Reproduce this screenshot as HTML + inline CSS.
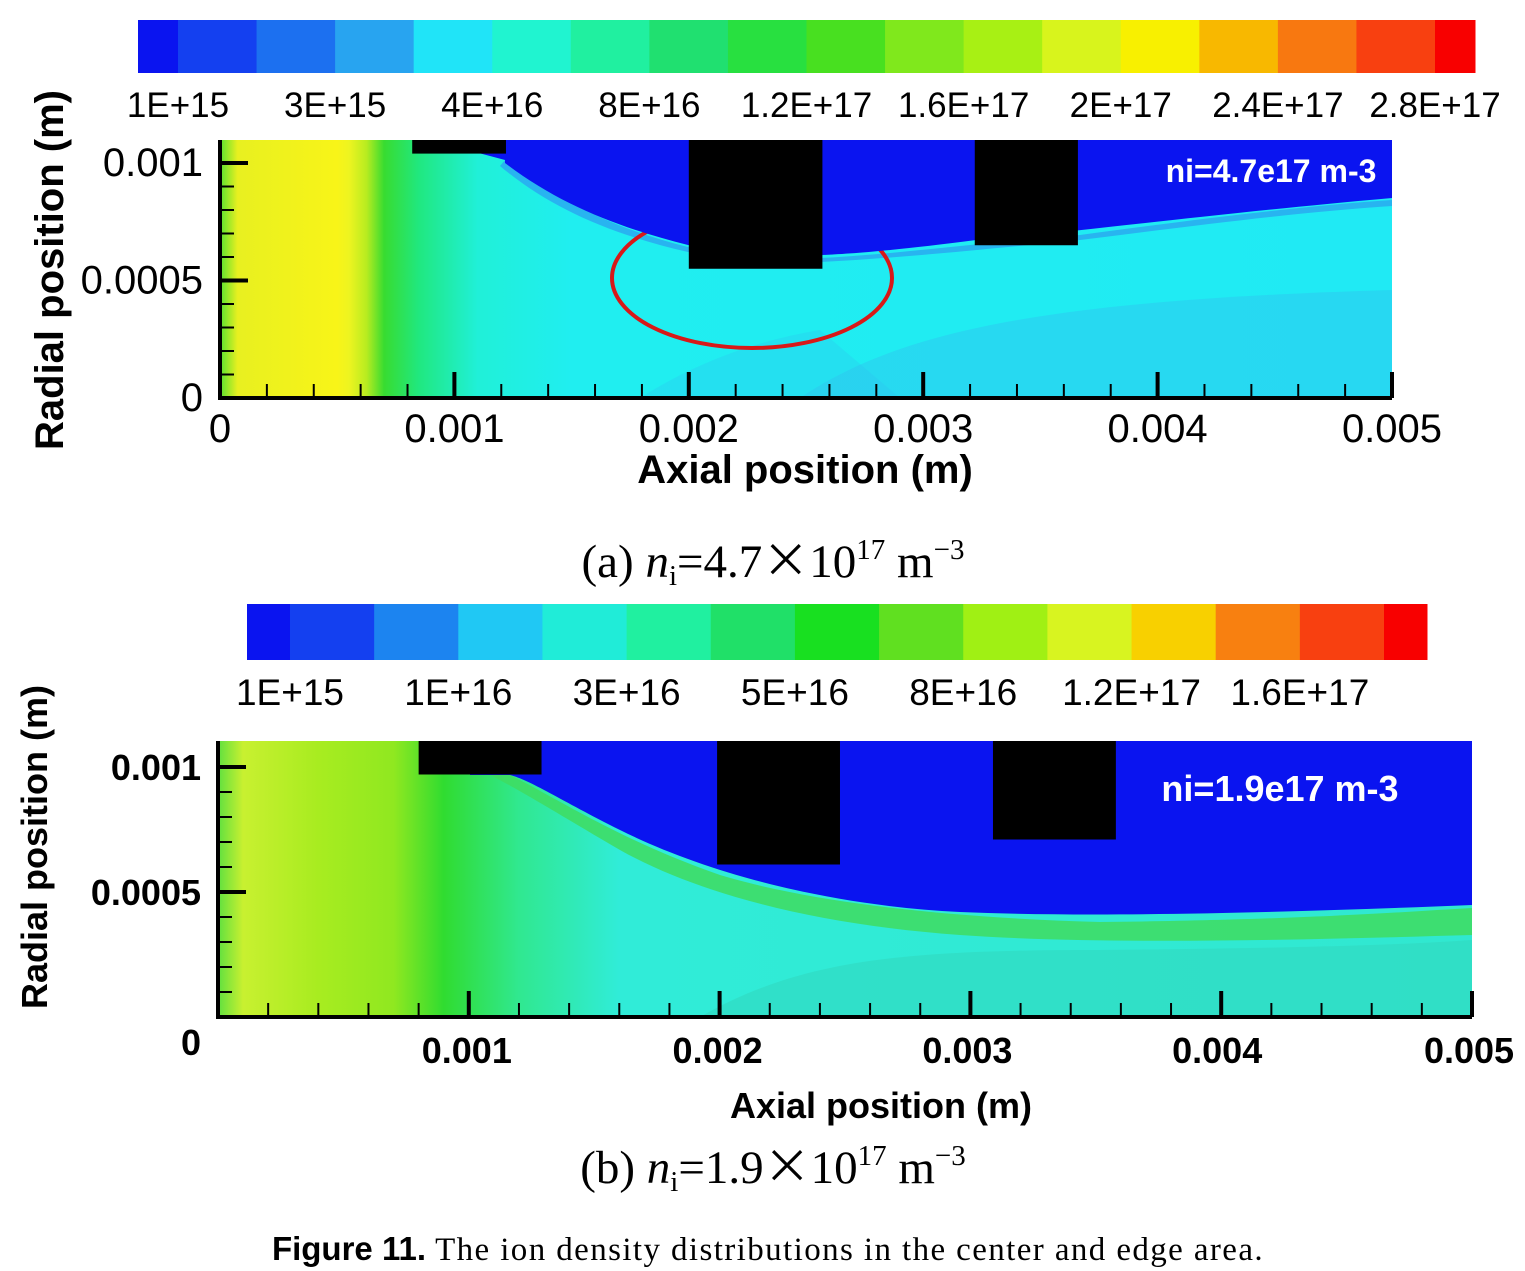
<!DOCTYPE html>
<html><head><meta charset="utf-8">
<style>
body{margin:0;background:#fff;width:1525px;height:1271px;overflow:hidden}
svg{display:block}
.s{font-family:"Liberation Sans",sans-serif}
.t{font-family:"Liberation Serif",serif}
</style></head>
<body>
<svg id="fig" width="1525" height="1271" viewBox="0 0 1525 1271" xmlns="http://www.w3.org/2000/svg">
<defs>
<linearGradient id="ga" x1="0" x2="1" y1="0" y2="0">
<stop offset="0" stop-color="#58e030"/><stop offset="0.015" stop-color="#e8f020"/><stop offset="0.1" stop-color="#f8f418"/>
<stop offset="0.11" stop-color="#eef420"/><stop offset="0.125" stop-color="#b8ec20"/><stop offset="0.14" stop-color="#38dc30"/>
<stop offset="0.17" stop-color="#20e880"/><stop offset="0.22" stop-color="#20f0d8"/><stop offset="0.3" stop-color="#20eef0"/><stop offset="1" stop-color="#20eaf4"/>
</linearGradient>
<linearGradient id="gb" x1="0" x2="1" y1="0" y2="0">
<stop offset="0" stop-color="#60e040"/><stop offset="0.02" stop-color="#c8f030"/><stop offset="0.08" stop-color="#a8ec20"/>
<stop offset="0.14" stop-color="#90e820"/><stop offset="0.18" stop-color="#30dc30"/><stop offset="0.24" stop-color="#30e890"/>
<stop offset="0.32" stop-color="#30ecd8"/><stop offset="1" stop-color="#30e8d0"/>
</linearGradient>
</defs>
<g id="pa"></g>
<g id="pb"></g>
<text class="t" x="773" y="577" font-size="47" text-anchor="middle">(a) <tspan font-style="italic">n</tspan><tspan font-size="29" dy="8">i</tspan><tspan dy="-8">=4.7</tspan><tspan font-family="Noto Sans CJK SC,sans-serif">×</tspan><tspan>10</tspan><tspan font-size="29" dy="-18">17</tspan><tspan dy="18"> m</tspan><tspan font-size="29" dy="-18">−3</tspan></text>
<text class="t" x="773" y="1183" font-size="47" text-anchor="middle">(b) <tspan font-style="italic">n</tspan><tspan font-size="29" dy="8">i</tspan><tspan dy="-8">=1.9</tspan><tspan font-family="Noto Sans CJK SC,sans-serif">×</tspan><tspan>10</tspan><tspan font-size="29" dy="-18">17</tspan><tspan dy="18"> m</tspan><tspan font-size="29" dy="-18">−3</tspan></text>
<text x="768" y="1260" font-size="33" text-anchor="middle"><tspan font-weight="bold" font-family="Liberation Sans,sans-serif">Figure 11.</tspan><tspan font-family="Liberation Serif,serif" letter-spacing="1.4"> The ion density distributions in the center and edge area.</tspan></text>
</svg>
<script>
const colorsA=["#0a14f0","#1440f0","#1c70f0","#28a4f0","#20e4f8","#20f4d0","#20f0a0","#20e070","#28e040","#48e020","#80e81c","#a8f014","#d8f41c","#f8f000","#f8b800","#f87810","#f84010","#f80000"];
const cbLabelsA=["1E+15","3E+15","4E+16","8E+16","1.2E+17","1.6E+17","2E+17","2.4E+17","2.8E+17"];
const colorsB=["#0a14f0","#1440f0","#1c84f0","#20c8f4","#20ecd8","#20f0a0","#20e068","#18e020","#60e020","#a0f014","#d8f420","#f8d000","#f88010","#f84010","#f80000"];
const cbLabelsB=["1E+15","1E+16","3E+16","5E+16","8E+16","1.2E+17","1.6E+17"];
const xTicks=[0,0.001,0.002,0.003,0.004,0.005];
const xTickLabels=["0","0.001","0.002","0.003","0.004","0.005"];
const yTicks=[0,0.0005,0.001];
const yTickLabels=["0","0.0005","0.001"];
const NS="http://www.w3.org/2000/svg";
function mk(p,tag,at,txt){const e=document.createElementNS(NS,tag);for(const k in at)e.setAttribute(k,at[k]);if(txt!=null)e.textContent=txt;p.appendChild(e);return e;}

function colorbar(g,x0,x1,y0,h,colors,labels,ly,fs,edge){
  const n=colors.length, mid=(x1-x0-2*edge)/(n-2);
  let x=x0;
  colors.forEach((c,i)=>{const w=(i==0||i==n-1)?edge:mid;
    const r=mk(g,'rect',{x:x,y:y0,width:w+0.5,height:h,fill:c});
    
    
    x+=w;});
  labels.forEach((l,i)=>{const t=mk(g,'text',{x:x0+edge+i*2*mid,y:ly,'font-size':fs,'text-anchor':'middle',class:'s'},l);
    
    });
}

function panel(g,o){
  const X=v=>o.x0+(o.x1-o.x0)*v/0.005, Y=v=>o.y0-(o.y0-o.y1)*v/0.001;
  const top=o.top, right=X(0.005);
  mk(g,'rect',{x:X(0),y:top,width:right-X(0),height:o.y0-top,fill:o.grad});
  o.extra(g,X,Y,top,right);
  mk(g,'path',{d:o.blue,fill:"#0a14f0"});
  o.rects.forEach(r=>{const e=mk(g,'rect',{x:X(r[0]),y:top,width:X(r[1])-X(r[0]),height:Y(r[2])-top,fill:"#000"});
    });
  const ax=mk(g,'path',{d:`M${X(0)},${top} V${o.y0} H${right}`,stroke:"#000","stroke-width":4,fill:"none"});
  
  for(let i=0;i<=25;i++){const v=i*0.0002,x=X(v),maj=i%5==0;
    mk(g,'line',{x1:x,x2:x,y1:o.y0,y2:o.y0-(maj?26:14),stroke:"#000","stroke-width":maj?4:2});}
  for(let i=0;i<=10;i++){const y=Y(i*0.0001),maj=i%5==0;
    mk(g,'line',{x1:X(0),x2:X(0)+(maj?28:14),y1:y,y2:y,stroke:"#000","stroke-width":maj?4:2});}
  xTicks.forEach((v,i)=>{if(o.skipX0&&i==0)return;
    const t=mk(g,'text',{x:X(v)+(o.xdx[i]||0),y:o.xly,'font-size':o.fs,'text-anchor':'middle',class:'s','font-weight':o.fw},xTickLabels[i]);
    });
  yTicks.forEach((v,i)=>{const t=mk(g,'text',{x:o.ylx-(i==0?o.y0dx:0),y:Y(v)+13+(i==0?o.y0dy:0),'font-size':o.fs,'text-anchor':'end',class:'s','font-weight':o.fw},yTickLabels[i]);
    });
  const xt=mk(g,'text',{x:o.xtx,y:o.xty,'font-size':o.tfs,'text-anchor':'middle',class:'s','font-weight':'bold'},'Axial position (m)');
  
  const yt=mk(g,'text',{x:0,y:0,'font-size':o.tfs,'text-anchor':'middle',class:'s','font-weight':'bold',transform:`translate(${o.ytx},${o.yty}) rotate(-90)`},'Radial position (m)');
  
  const an=mk(g,'text',{x:o.anx,y:o.any,'font-size':o.afs,'text-anchor':'middle',class:'s','font-weight':'bold',fill:'#fff'},o.ann);
  
}

const ga=document.getElementById('pa'), gb=document.getElementById('pb');
colorbar(ga,138,1475,20,53,colorsA,cbLabelsA,117,35,40);
panel(ga,{x0:220,x1:1392,y0:398,y1:163,top:140,grad:"url(#ga)",
  rects:[[0.00082,0.00122,0.00104],[0.002,0.00257,0.00055],[0.00322,0.00366,0.00065]],
  blue:"M430,140 L1392,140 L1392,198 C1200,215 1080,232 976,240 C900,250 850,254 821,255 L688,245 C620,228 560,205 505,163 L505,160 Z",
  extra:(g,X,Y,top,right)=>{
    mk(g,'path',{d:"M505,160 C560,203 620,230 688,247 L821,258 C900,254 976,243 1080,235 C1200,219 1300,206 1392,200 L1392,206 C1300,212 1200,225 1080,240 C976,250 900,258 821,262 L688,252 C610,234 550,208 500,166 Z",fill:"#28b4f0"});
    mk(g,'path',{d:"M800,398 C900,330 1050,300 1392,290 L1392,398 Z",fill:"#30c4f0",opacity:0.45});
    mk(g,'path',{d:"M640,398 C700,360 760,340 820,330 L900,398 Z",fill:"#30c4f0",opacity:0.3});
    const el=mk(g,'ellipse',{cx:752,cy:278,rx:140,ry:70,fill:"none",stroke:"#d81818","stroke-width":4});
    
  },
  xdx:[0,0,0,0,0,0],xly:442,ylx:203,y0dx:0,y0dy:0,fs:40,fw:'normal',
  xtx:805,xty:483,tfs:40,ytx:63,yty:270,anx:1271,any:182,afs:32,ann:"ni=4.7e17 m-3"});
colorbar(gb,247,1427,604,56,colorsB,cbLabelsB,705,37,43);
panel(gb,{x0:218,x1:1472,y0:1017,y1:767,top:741,grad:"url(#gb)",
  rects:[[0.0008,0.00129,0.00097],[0.00199,0.00248,0.00061],[0.00309,0.00358,0.00071]],
  blue:"M470,741 L1472,741 L1472,905 C1300,912 1100,918 960,912 C820,905 700,870 620,830 C560,800 530,780 510,775 L470,775 Z",
  extra:(g,X,Y,top,right)=>{
    mk(g,'path',{d:"M510,775 C560,800 620,840 720,875 C820,905 960,918 1100,922 C1300,920 1400,912 1472,908 L1472,935 C1300,940 1100,945 960,935 C820,925 700,895 620,850 C560,815 520,790 490,775 Z",fill:"#40dc60",opacity:0.85});
    mk(g,'path',{d:"M700,1017 C800,960 900,950 1100,950 C1300,948 1400,945 1472,940 L1472,1017 Z",fill:"#30d8c0",opacity:0.6});
  },
  skipX0:true,xdx:[0,-2,-2,-3,-4,-3],xly:1063,ylx:201,y0dx:0,y0dy:25,fs:36,fw:'bold',
  xtx:881,xty:1118,tfs:36,ytx:47,yty:847,anx:1280,any:801,afs:36,ann:"ni=1.9e17 m-3"});
</script>
</body></html>
